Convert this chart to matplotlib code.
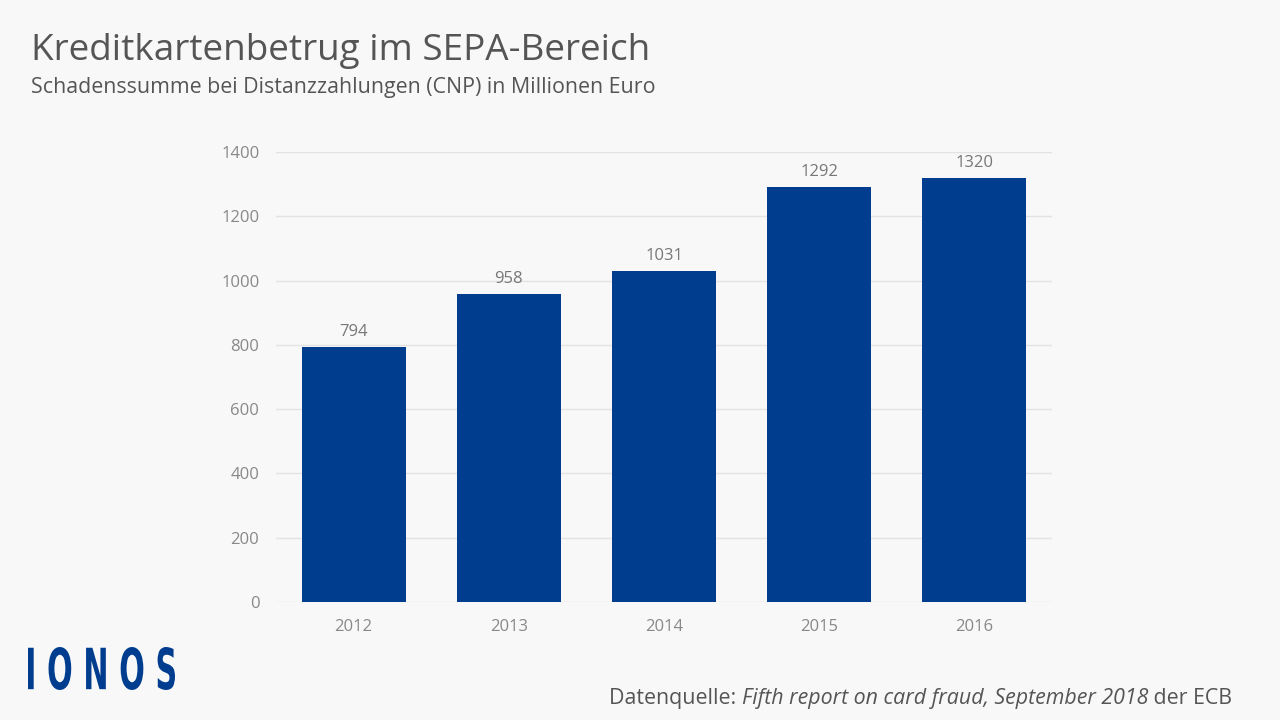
import matplotlib
matplotlib.use('Agg')
import matplotlib.pyplot as plt
from matplotlib.textpath import TextPath
from matplotlib.patches import PathPatch
from matplotlib.font_manager import FontProperties
import matplotlib.transforms as mtransforms


years = ['2012', '2013', '2014', '2015', '2016']
damage = [794, 958, 1031, 1292, 1320]
yticks = [0, 200, 400, 600, 800, 1000, 1200, 1400]

bg = '#f8f8f8'
blue = '#003d8f'
W, H = 1280, 720

plt.rcParams['font.family'] = ['Open Sans', 'DejaVu Sans']


def main():
    fig = plt.figure(figsize=(12.8, 7.2), dpi=100, facecolor=bg)
    ax = fig.add_axes([276 / W, 1 - 602 / H, (1052 - 276) / W, (602 - 152) / H])
    ax.set_facecolor(bg)

    x = range(len(years))
    bars = ax.bar(x, damage, width=0.67, color=blue, zorder=3)
    for b, v in zip(bars, damage):
        ax.annotate(str(v), (b.get_x() + b.get_width() / 2, v),
                    xytext=(0, 5), textcoords='offset points',
                    ha='center', va='bottom', fontsize=12, color='#777777')

    ax.set_xlim(-0.5, len(years) - 0.5)
    ax.set_ylim(0, 1400)
    ax.set_xticks(list(x), years)
    ax.set_yticks(yticks)
    ax.grid(axis='y', color='#e3e3e3', linewidth=1, zorder=0)
    for s in ax.spines.values():
        s.set_visible(False)
    ax.tick_params(length=0, labelsize=12, labelcolor='#888888')
    ax.tick_params(axis='y', pad=12)
    ax.tick_params(axis='x', pad=12)

    fig.text(31 / W, 1 - 60 / H, 'Kreditkartenbetrug im SEPA-Bereich',
             fontsize=26.6, color='#555555', va='baseline')
    fig.text(31 / W, 1 - 93 / H,
             'Schadenssumme bei Distanzzahlungen (CNP) in Millionen Euro',
             fontsize=15.4, color='#555555', va='baseline')

    # source line, built right to left
    fig.canvas.draw()
    r = fig.canvas.get_renderer()
    xr = 1232
    parts = [(' der ECB', 'normal'),
             ('Fifth report on card fraud, September 2018', 'italic'),
             ('Datenquelle: ', 'normal')]
    for txt, style in parts:
        t = fig.text(xr / W, 1 - 704 / H, txt, fontsize=15.4, style=style,
                     color='#555555', ha='right', va='baseline')
        bb = t.get_window_extent(r)
        xr = bb.x0

    # IONOS logo squeezed into its box
    fp = FontProperties(family='DejaVu Sans', weight='bold')
    tp = TextPath((0, 0), 'I O N O S', size=1, prop=fp)
    ext = tp.get_extents()
    x0, y0, x1, y1 = 28, 720 - 690, 175, 720 - 647
    sx = (x1 - x0) / ext.width
    sy = (y1 - y0) / ext.height
    tr = (mtransforms.Affine2D().translate(-ext.x0, -ext.y0)
          .scale(sx, sy).translate(x0, y0))
    fig.patches.append(PathPatch(tr.transform_path(tp), color=blue, lw=0,
                                 transform=mtransforms.IdentityTransform(),
                                 figure=fig))

    fig.savefig('out.png', dpi=100, facecolor=bg)


if __name__ == '__main__':
    main()
